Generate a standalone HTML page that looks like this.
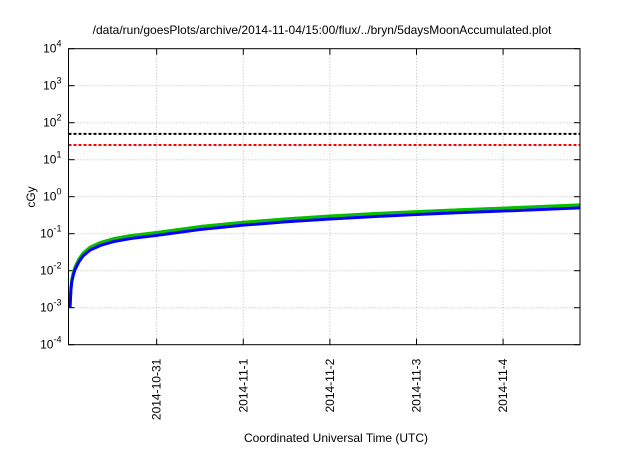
<!DOCTYPE html>
<html><head><meta charset="utf-8"><style>
body{margin:0;background:#fff;}
svg text{font-family:"Liberation Sans",sans-serif;fill:#000;}
</style></head><body>
<svg id="c" width="640" height="448">
<text x="322" y="34" font-size="12" text-anchor="middle">/data/run/goesPlots/archive/2014-11-04/15:00/flux/../bryn/5daysMoonAccumulated.plot</text>
<text x="336" y="442" font-size="12" text-anchor="middle">Coordinated Universal Time (UTC)</text>
<text transform="translate(35,197) rotate(-90)" font-size="12" text-anchor="middle">cGy</text>
<g id="g"></g>
</svg>
<script>
const yExps=[-4,-3,-2,-1,0,1,2,3,4];
const xTickDays=[1,2,3,4,5];
const xTickLabels=["2014-10-31","2014-11-1","2014-11-2","2014-11-3","2014-11-4"];
const times=[0,0.01,0.02,0.04,0.06,0.1,0.15,0.23,0.35,0.5,0.7,1,1.5,2,2.5,3,3.5,4,4.5,5,5.9];
const blueVals=[0.001,0.003,0.005,0.008,0.011,0.017,0.025,0.036,0.048,0.061,0.074,0.09,0.13,0.17,0.21,0.25,0.29,0.33,0.37,0.41,0.5];
const greenVals=[0.0012,0.0036,0.006,0.0096,0.013,0.0204,0.03,0.043,0.058,0.073,0.089,0.108,0.156,0.204,0.252,0.3,0.348,0.396,0.444,0.492,0.6];
const orangeVals=[0.00125,0.0038,0.0063,0.01,0.0138,0.0213,0.031,0.045,0.06,0.076,0.093,0.113,0.163,0.213,0.263,0.313,0.363,0.413,0.463,0.513,0.625];
const blackThreshold=50;
const redThreshold=25;
const L=68.5,R=580,T=48.7,B=344.7,X0=-0.018,X1=5.888;
const xs=d=>L+(d-X0)/(X1-X0)*(R-L);
const ys=v=>B-(Math.log10(v)+4)/8*(B-T);
const NS="http://www.w3.org/2000/svg";
const g=document.getElementById('g');
function mk(t,a,p){const e=document.createElementNS(NS,t);for(const k in a)e.setAttribute(k,a[k]);(p||g).appendChild(e);return e;}
yExps.forEach(e=>{const y=ys(Math.pow(10,e));
 if(e>-4&&e<4){const l=mk('line',{x1:L,x2:R,y1:y,y2:y,stroke:'#bbb','stroke-dasharray':'1,2'});
 
 }
 mk('line',{x1:L,x2:L+6,y1:y,y2:y,stroke:'#000'});mk('line',{x1:R-6,x2:R,y1:y,y2:y,stroke:'#000'});
 const t=mk('text',{x:L-7,y:y+4,'font-size':12,'text-anchor':'end'});
 
 
 t.textContent='10';const s=mk('tspan',{dy:-6,'font-size':9},t);s.textContent=String(e);});
xTickDays.forEach((d,i)=>{const x=xs(d);
 const l=mk('line',{x1:x,x2:x,y1:T,y2:B,stroke:'#bbb','stroke-dasharray':'1,2'});
 
 
 mk('line',{x1:x,x2:x,y1:B-6,y2:B,stroke:'#000'});mk('line',{x1:x,x2:x,y1:T,y2:T+6,stroke:'#000'});
 const t=mk('text',{transform:`translate(${x+4},${B+14}) rotate(-90)`,'font-size':12,'text-anchor':'end'});
 
 
 t.textContent=xTickLabels[i];});
[[blackThreshold,'#000','black-threshold-line'],[redThreshold,'#f00','red-threshold-line']].forEach(([v,c,n])=>{
 const l=mk('line',{x1:L,x2:R,y1:ys(v),y2:ys(v),stroke:c,'stroke-width':2,'stroke-dasharray':'3,2'});
 
 });
[[orangeVals,'#e8a040',1.5,'orange-series'],[greenVals,'#00c000',3,'green-series'],[blueVals,'#0000ff',3,'blue-series']].forEach(([vals,c,w,n])=>{
 const p=mk('polyline',{points:times.map((t,i)=>xs(Math.min(t,X1))+','+ys(vals[i])).join(' '),fill:'none',stroke:c,'stroke-width':w,'stroke-linejoin':'round'});
 
 });
const f=mk('rect',{x:L,y:T,width:R-L,height:B-T,fill:'none',stroke:'#000','stroke-width':1});


</script>
</body></html>
